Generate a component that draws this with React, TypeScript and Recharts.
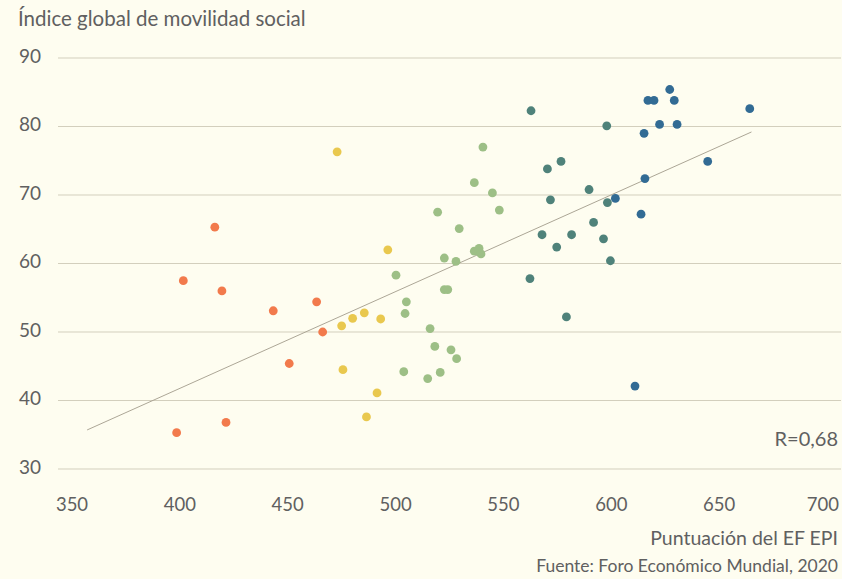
import { ScatterChart, Scatter, XAxis, YAxis, CartesianGrid, ReferenceLine } from 'recharts';

document.body.style.margin = '0';

type Pt = { x: number; y: number };

const orange: Pt[] = [
  { x: 416.2, y: 65.3 }, { x: 401.6, y: 57.5 }, { x: 419.5, y: 56.0 }, { x: 443.3, y: 53.1 },
  { x: 463.4, y: 54.4 }, { x: 466.2, y: 50.0 }, { x: 450.7, y: 45.4 }, { x: 421.4, y: 36.8 },
  { x: 398.5, y: 35.3 },
];

const yellow: Pt[] = [
  { x: 472.9, y: 76.3 }, { x: 496.4, y: 62.0 }, { x: 475.0, y: 50.9 }, { x: 480.1, y: 52.0 },
  { x: 485.5, y: 52.8 }, { x: 493.1, y: 51.9 }, { x: 475.6, y: 44.5 }, { x: 491.4, y: 41.1 },
  { x: 486.5, y: 37.6 },
];

const green: Pt[] = [
  { x: 500.2, y: 58.3 }, { x: 505.0, y: 54.4 }, { x: 504.4, y: 52.7 }, { x: 503.8, y: 44.2 },
  { x: 516.0, y: 50.5 }, { x: 514.9, y: 43.2 }, { x: 540.5, y: 77.0 }, { x: 536.5, y: 71.8 },
  { x: 544.9, y: 70.3 }, { x: 548.1, y: 67.8 }, { x: 519.5, y: 67.5 }, { x: 529.5, y: 65.1 },
  { x: 522.6, y: 60.8 }, { x: 528.0, y: 60.3 }, { x: 536.5, y: 61.8 }, { x: 538.7, y: 62.2 },
  { x: 539.6, y: 61.4 }, { x: 522.6, y: 56.2 }, { x: 524.2, y: 56.2 }, { x: 518.2, y: 47.9 },
  { x: 525.7, y: 47.4 }, { x: 528.3, y: 46.1 }, { x: 520.7, y: 44.1 },
];

const teal: Pt[] = [
  { x: 562.8, y: 82.3 }, { x: 597.9, y: 80.1 }, { x: 570.4, y: 73.8 }, { x: 576.7, y: 74.9 },
  { x: 589.7, y: 70.8 }, { x: 571.8, y: 69.3 }, { x: 598.2, y: 68.9 }, { x: 591.8, y: 66.0 },
  { x: 567.9, y: 64.2 }, { x: 581.6, y: 64.2 }, { x: 574.7, y: 62.4 }, { x: 596.4, y: 63.6 },
  { x: 599.6, y: 60.4 }, { x: 562.3, y: 57.8 }, { x: 579.2, y: 52.2 },
];

const blue: Pt[] = [
  { x: 627.1, y: 85.4 }, { x: 617.0, y: 83.8 }, { x: 619.8, y: 83.8 }, { x: 629.2, y: 83.8 },
  { x: 664.2, y: 82.6 }, { x: 622.4, y: 80.3 }, { x: 630.5, y: 80.3 }, { x: 615.2, y: 79.0 },
  { x: 644.7, y: 74.9 }, { x: 615.6, y: 72.4 }, { x: 601.9, y: 69.5 }, { x: 613.8, y: 67.2 },
  { x: 611.0, y: 42.1 },
];

const trendLine: Pt[] = [{ x: 357, y: 35.7 }, { x: 665, y: 79.2 }];

const xTicks = [350, 400, 450, 500, 550, 600, 650, 700];
const yTicks = [30, 40, 50, 60, 70, 80, 90];

const groups = [
  { name: 'naranja', data: orange, color: '#f27a4c' },
  { name: 'amarillo', data: yellow, color: '#e9c84e' },
  { name: 'verde', data: green, color: '#9dbf86' },
  { name: 'verdeoscuro', data: teal, color: '#4f827a' },
  { name: 'azul', data: blue, color: '#326b94' },
];

const FONT = 'Lato, sans-serif';
const TEXT = '#606060';

// eslint-disable-next-line @typescript-eslint/no-explicit-any
const XTick = (props: any) => {
  const last = props.payload.value === xTicks[xTicks.length - 1];
  return (
    <text
      x={last ? 839 : props.x}
      y={props.y + 29}
      textAnchor={last ? 'end' : 'middle'}
      dominantBaseline="middle"
      fontSize={18.5}
      fill={TEXT}
      fontFamily={FONT}
    >
      {props.payload.value}
    </text>
  );
};

// eslint-disable-next-line @typescript-eslint/no-explicit-any
const YTick = (props: any) => (
  <text x={19} y={props.y} textAnchor="start" dominantBaseline="middle" fontSize={19} fill={TEXT} fontFamily={FONT}>
    {props.payload.value}
  </text>
);

const dot = (color: string) => {
  // eslint-disable-next-line @typescript-eslint/no-explicit-any
  return (p: any) => <circle cx={p.cx} cy={p.cy} r={4.4} fill={color} />;
};

export default function App() {
  return (
    <div style={{ position: 'relative', width: 842, height: 579, background: '#fefdf0', fontFamily: FONT, color: TEXT }}>
      <div style={{ position: 'absolute', left: 18, top: 4, fontSize: 20.5, lineHeight: '28px' }}>Índice global de movilidad social</div>
      <ScatterChart width={842} height={579} margin={{ top: 58, right: 1, bottom: 0, left: 0 }}>
        <CartesianGrid vertical={false} stroke="#d3cfbd" />
        <XAxis
          type="number"
          dataKey="x"
          domain={[343.5, 706.5]}
          ticks={xTicks}
          tick={XTick}
          axisLine={false}
          tickLine={false}
          height={110}
        />
        <YAxis
          type="number"
          dataKey="y"
          domain={[30, 90]}
          ticks={yTicks}
          tick={YTick}
          axisLine={false}
          tickLine={false}
          width={58}
        />
        <ReferenceLine
          segment={[trendLine[0], trendLine[1]]}
          stroke="#aca696"
          strokeWidth={1}
          ifOverflow="visible"
        />
        {groups.map((g) => (
          <Scatter key={g.name} data={g.data} fill={g.color} shape={dot(g.color)} isAnimationActive={false} />
        ))}
      </ScatterChart>
      <div style={{ position: 'absolute', right: 4, top: 424, fontSize: 20, lineHeight: '28px' }}>R=0,68</div>
      <div style={{ position: 'absolute', right: 4, top: 524, fontSize: 19.5, lineHeight: '28px' }}>Puntuación del EF EPI</div>
      <div style={{ position: 'absolute', right: 4, top: 554, fontSize: 17.5, lineHeight: '24px' }}>Fuente: Foro Económico Mundial, 2020</div>
    </div>
  );
}
